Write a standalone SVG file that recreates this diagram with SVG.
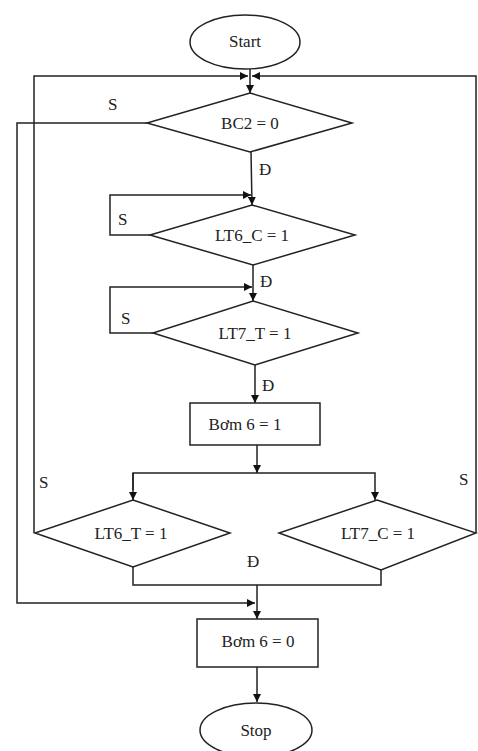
<svg xmlns="http://www.w3.org/2000/svg" width="478" height="751" viewBox="0 0 478 751">
<defs>
<marker id="ah" viewBox="0 0 10 10" refX="10" refY="5" markerWidth="8" markerHeight="8" markerUnits="userSpaceOnUse" orient="auto">
<path d="M0,0 L10,5 L0,10 z" fill="#111"/>
</marker>
<style>
.sh{fill:#fff;stroke:#222;stroke-width:1.5}
.ln{fill:none;stroke:#222;stroke-width:1.5}
.ar{fill:none;stroke:#222;stroke-width:1.5;marker-end:url(#ah)}
text{font-family:"Liberation Serif","Times New Roman",serif;font-size:17px;fill:#222}
.c{text-anchor:middle}
</style>
</defs>
<rect width="478" height="751" fill="#fff"/>
<g id="connectors">
<line class="ar" x1="250" y1="69" x2="250" y2="93"/>
<polyline class="ar" points="34,533 34,76 248,76"/>
<polyline class="ar" points="476,533 476,76 252,76"/>
<polyline class="ar" points="147,123 17,123 17,603 255,603"/>
<line class="ar" x1="251" y1="152" x2="252" y2="205"/>
<polyline class="ar" points="150,235 110,235 110,195 251,195"/>
<line class="ar" x1="253" y1="265" x2="253" y2="301"/>
<polyline class="ar" points="153,333 110,333 110,287 252,287"/>
<line class="ar" x1="255" y1="365" x2="255" y2="403"/>
<line class="ar" x1="257" y1="445" x2="257" y2="473"/>
<polyline class="ar" points="133,490 133,473 375,473 375,500"/>
<line class="ar" x1="133" y1="473" x2="133" y2="500"/>
<polyline class="ln" points="133,567 133,585 381,585 381,570"/>
<line class="ar" x1="257" y1="585" x2="257" y2="619"/>
<line class="ar" x1="257" y1="667" x2="257" y2="702"/>
</g>
<g id="start"><ellipse class="sh" cx="245" cy="42" rx="55" ry="27"/><text class="c" x="245" y="47">Start</text></g>
<g id="bc2"><polygon class="sh" points="250,93 352,123 250,152 147,123"/><text class="c" x="250" y="129">BC2 = 0</text></g>
<g id="lt6c"><polygon class="sh" points="252,205 355,235 253,265 150,235"/><text class="c" x="252" y="241">LT6_C = 1</text></g>
<g id="lt7t"><polygon class="sh" points="253,301 358,333 255,365 153,333"/><text class="c" x="255" y="339">LT7_T = 1</text></g>
<g id="bom1"><rect class="sh" x="190" y="403" width="130" height="42"/><text class="c" x="245" y="430">Bơm 6 = 1</text></g>
<g id="lt6t"><polygon class="sh" points="133,500 230,533 133,567 35,533"/><text class="c" x="131" y="539">LT6_T = 1</text></g>
<g id="lt7c"><polygon class="sh" points="377,500 476,533 381,570 279,533"/><text class="c" x="378" y="539">LT7_C = 1</text></g>
<g id="bom0"><rect class="sh" x="197" y="619" width="121" height="48"/><text class="c" x="258" y="647">Bơm 6 = 0</text></g>
<g id="stop"><ellipse class="sh" cx="256" cy="730" rx="56" ry="27"/><text class="c" x="256" y="736">Stop</text></g>
<g id="labels">
<text x="108" y="110">S</text>
<text x="259" y="175">Đ</text>
<text x="118" y="225">S</text>
<text x="260" y="287">Đ</text>
<text x="121" y="324">S</text>
<text x="262" y="391">Đ</text>
<text x="39" y="488">S</text>
<text x="459" y="485">S</text>
<text x="247" y="567">Đ</text>
</g>
</svg>
